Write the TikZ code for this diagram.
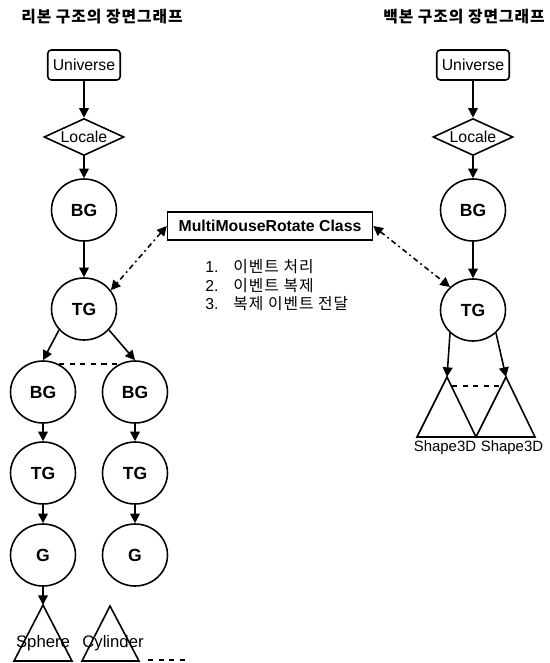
\documentclass[tikz,border=0pt]{standalone}
\usepackage{fontspec}
\setmainfont{Liberation Sans}
\newfontfamily\kr[LetterSpace=6]{Noto Sans CJK KR}
\usetikzlibrary{shapes.geometric,arrows.meta}

\tikzset{
  grp/.style={draw, ellipse, line width=0.9pt, minimum width=1.3cm, minimum height=1.24cm,
    inner sep=0pt, font=\fontsize{10}{12}\selectfont\bfseries},
  unibox/.style={draw, rounded corners=2pt, line width=0.9pt, minimum width=1.45cm,
    minimum height=0.6cm, inner sep=1pt, font=\fontsize{9}{11}\selectfont},
  loc/.style={draw, diamond, aspect=2.2, inner sep=0pt, line width=0.9pt,
    minimum width=1.6cm, minimum height=0.74cm, font=\fontsize{9}{11}\selectfont},
  link/.style={line width=0.9pt, -{Triangle[length=5.5pt,width=5.5pt]}},
  evlink/.style={line width=0.9pt, dash pattern=on 3pt off 2pt on 1pt off 2pt,
    {Triangle[length=5.5pt,width=5.5pt]}-{Triangle[length=5.5pt,width=5.5pt]}},
  tri/.style={line width=0.9pt, line join=miter},
  ttl/.style={font=\kr\bfseries\fontsize{9}{11}\selectfont},
  lbl/.style={inner sep=0pt, font=\fontsize{8.5}{10}\selectfont},
  leaflbl/.style={inner sep=0pt, font=\fontsize{9.5}{11}\selectfont},
}

\begin{document}
\begin{tikzpicture}[x=0.02cm, y=-0.02cm] % one unit = one pixel, y down
  \useasboundingbox (0,0) rectangle (550,663);

  % Titles
  \node[ttl] (ttlL) at (102,17) {리본 구조의 장면그래프};
  \node[ttl] (ttlR) at (464,17) {백본 구조의 장면그래프};

  % Ribbon graph (left)
  \node[unibox] (uniL) at (84,65) {Universe};
  \node[loc] (locL) at (84,137) {Locale};
  \node[grp] (bgL) at (84,210) {BG};
  \node[grp] (tgL) at (84,309) {TG};
  \node[grp] (bgA) at (43,392) {BG};
  \node[grp] (bgB) at (135,392) {BG};
  \node[grp] (tgA) at (43,473) {TG};
  \node[grp] (tgB) at (135,473) {TG};
  \node[grp] (gA) at (43,555) {G};
  \node[grp] (gB) at (135,555) {G};

  \coordinate (sphTop) at (43,605);
  \draw[tri] (sphTop) -- (14,661) -- (72,661) -- cycle;
  \node[leaflbl] (sph) at (43,643) {Sphere};
  \coordinate (cylTop) at (110,606);
  \draw[tri] (cylTop) -- (82,661) -- (139,661) -- cycle;
  \node[leaflbl] (cyl) at (113,643) {Cylinder};
  \draw[line width=0.9pt, dashed] (148,660) -- (190,660);

  \draw[link] (uniL) -- (locL);
  \draw[link] (locL) -- (bgL);
  \draw[link] (bgL) -- (tgL);
  \draw[link] (tgL.220) -- (bgA.north);
  \draw[link] (tgL.320) -- (bgB.north);
  \draw[line width=0.9pt, dashed] (bgA.60) -- (bgB.120);
  \draw[link] (bgA) -- (tgA);
  \draw[link] (tgA) -- (gA);
  \draw[link] (bgB) -- (tgB);
  \draw[link] (tgB) -- (gB);
  \draw[link] (gA) -- (sphTop);

  % Backbone graph (right)
  \node[unibox] (uniR) at (473,65) {Universe};
  \node[loc] (locR) at (473,137) {Locale};
  \node[grp] (bgR) at (473,210) {BG};
  \node[grp] (tgR) at (473,310) {TG};

  \coordinate (shL) at (447,377);
  \coordinate (shR) at (506,377);
  \draw[tri] (shL) -- (417,437) -- (476,437) -- cycle;
  \draw[tri] (shR) -- (476,437) -- (535,437) -- cycle;
  \node[lbl] (shLtxt) at (445,448) {Shape3D};
  \node[lbl] (shRtxt) at (512,448) {Shape3D};
  \coordinate (dA) at (452,386);
  \coordinate (dB) at (501,386);
  \draw[line width=0.9pt, dashed] (dA) -- (dB);

  \draw[link] (uniR) -- (locR);
  \draw[link] (locR) -- (bgR);
  \draw[link] (bgR) -- (tgR);
  \draw[link] (tgR.225) -- (shL);
  \draw[link] (tgR.315) -- (shR);

  % Event handler
  \node[draw, line width=0.9pt, minimum width=4.1cm, minimum height=0.56cm,
    font=\bfseries\fontsize{9}{11}\selectfont] (mmr) at (270,226) {MultiMouseRotate Class};
  \node[anchor=west, inner sep=0pt, font=\fontsize{9}{9.6}\selectfont] (steps) at (205,287) {%
    \begin{tabular}{@{}l@{\hspace{8.5pt}}l@{}}
      1. & {\kr 이벤트 처리}\\
      2. & {\kr 이벤트 복제}\\
      3. & {\kr 복제 이벤트 전달}
    \end{tabular}};

  \draw[evlink] (mmr.west) -- (tgL.35);
  \draw[evlink] (mmr.east) -- (tgR.135);
\end{tikzpicture}
\end{document}
